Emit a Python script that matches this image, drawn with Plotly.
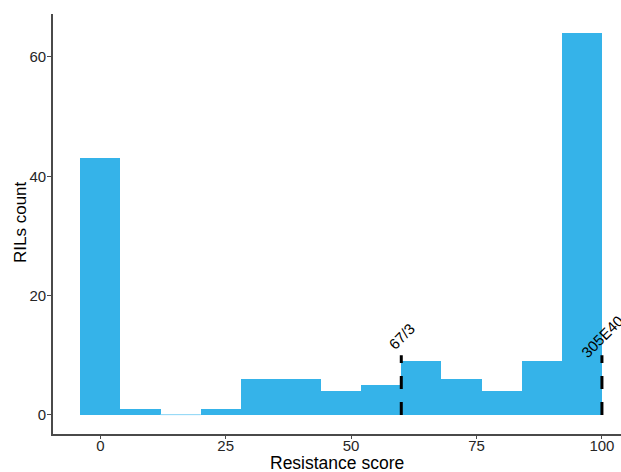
import plotly.graph_objects as go

# Histogram bins (width 8) and counts
bin_centers = [0, 8, 16, 24, 32, 40, 48, 56, 64, 72, 80, 88, 96]
counts = [43, 1, 0, 1, 6, 6, 4, 5, 9, 6, 4, 9, 64]
bin_width = 8

# Marker lines for parents
marker_x = [60, 100]
marker_top = [10, 10]
marker_labels = ["67/3", "305E40"]
label_y = 13.2

x_ticks = [0, 25, 50, 75, 100]
y_ticks = [0, 20, 40, 60]

axis_col = "#4a4a4a"
txt_col = "#262626"
font_fam = "Liberation Sans, Arial, sans-serif"

# thin outline only visible on empty bins
outline_w = [0.8 if c == 0 else 0 for c in counts]

fig = go.Figure()
fig.add_trace(go.Bar(
    x=bin_centers, y=counts, width=[bin_width] * len(bin_centers),
    marker=dict(color="#35B3E9", line=dict(color="#8fd5f5", width=outline_w)),
    showlegend=False, hoverinfo="x+y",
))

for mx, mt in zip(marker_x, marker_top):
    fig.add_trace(go.Scatter(
        x=[mx, mx], y=[0, mt], mode="lines",
        line=dict(color="black", width=3, dash="13px,13px"),
        showlegend=False, hoverinfo="skip", cliponaxis=False,
    ))

for mx, lab in zip(marker_x, marker_labels):
    fig.add_annotation(
        x=mx, y=label_y, text=lab, showarrow=False, textangle=-45,
        font=dict(family=font_fam, size=15, color="black"),
        xanchor="center", yanchor="middle",
    )

fig.add_annotation(
    xref="paper", yref="paper", x=0.5, y=0, yshift=-28.5, text="Resistance score",
    showarrow=False, font=dict(family=font_fam, size=17.5, color="black"),
    xanchor="center", yanchor="middle",
)
fig.add_annotation(
    xref="paper", yref="paper", x=0, xshift=-33, y=0.5, yshift=2, text="RILs count",
    showarrow=False, textangle=-90, font=dict(family=font_fam, size=17, color="black"),
    xanchor="center", yanchor="middle",
)

fig.update_layout(
    width=621, height=472,
    margin=dict(l=53, r=0, t=14, b=38),
    paper_bgcolor="white", plot_bgcolor="white",
    bargap=0,
    font=dict(family=font_fam, color=txt_col),
    xaxis=dict(
        range=[-9.43, 103.8], tickvals=x_ticks, ticktext=[str(v) for v in x_ticks],
        showgrid=False, zeroline=False, showline=True, linecolor=axis_col, linewidth=1.6,
        ticks="outside", ticklen=3, tickwidth=1.2, tickcolor=axis_col,
        tickfont=dict(size=15, color=txt_col, family=font_fam),
        ticklabelstandoff=-6,
    ),
    yaxis=dict(
        range=[-3.2, 67.2], tickvals=y_ticks, ticktext=[str(v) for v in y_ticks],
        showgrid=False, zeroline=False, showline=True, linecolor=axis_col, linewidth=1.6,
        ticks="outside", ticklen=4, tickwidth=1.2, tickcolor=axis_col,
        tickfont=dict(size=15, color=txt_col, family=font_fam),
        ticklabelstandoff=-2,
    ),
)

fig.write_html("out.html")
